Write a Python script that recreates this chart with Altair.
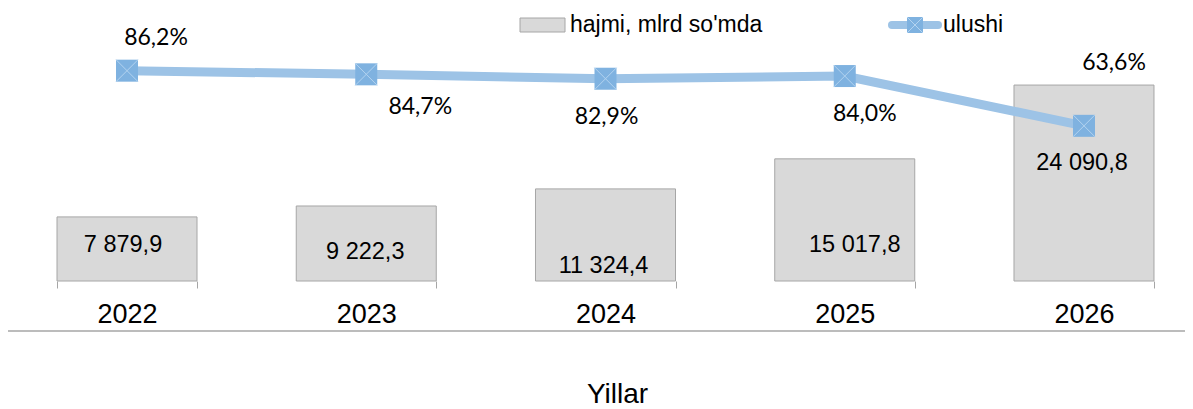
import altair as alt
import pandas as pd

# ---- data ----
years = ["2022", "2023", "2024", "2025", "2026"]
volume = [7879.9, 9222.3, 11324.4, 15017.8, 24090.8]          # hajmi, mlrd so'mda
share = [86.2, 84.7, 82.9, 84.0, 63.6]                        # ulushi, %
volume_labels = ["7 879,9", "9 222,3", "11 324,4", "15 017,8", "24 090,8"]
share_labels = ["86,2%", "84,7%", "82,9%", "84,0%", "63,6%"]
legend_labels = ["hajmi, mlrd so'mda", "ulushi"]
axis_title = "Yillar"

df = pd.DataFrame({
    "year": years,
    "volume": volume,
    "share": share,
    "vol_label": volume_labels,
    "share_label": share_labels,
})
one = pd.DataFrame({"k": [0]})

# ---- styling / label placement (not data) ----
PLOT_W, PLOT_H = 1177, 244
BAR_FILL, BAR_STROKE = "#d9d9d9", "#a6a6a6"
LINE_COLOR, MARK_COLOR, CROSS_COLOR = "#9DC3E6", "#7FB2E0", "#B3D3F0"
vol_offsets = {"2022": (-4, -4), "2023": (-1, 9), "2024": (-2, 31), "2025": (10, 25), "2026": (-2, -20)}
pct_offsets = {"2022": (29, -33), "2023": (54, 33), "2024": (1, 38), "2025": (20, 38), "2026": (30, -63)}

x_axis = alt.Axis(
    title=axis_title, titleFont="Liberation Sans", titleFontSize=28, titleFontWeight="normal",
    titleColor="black", titleBaseline="alphabetic", titleX=609, titleY=121,
    labelFont="Liberation Sans", labelFontSize=27, labelColor="black", labelAngle=0,
    labelPadding=13, tickSize=7, tickColor="#a6a6a6", tickWidth=1, tickBand="extent",
    domain=False, grid=False,
)
x_scale = alt.Scale(paddingInner=0.4148, paddingOuter=0.1672, align=0.6125)
X = alt.X("year:N", sort=years, scale=x_scale, axis=x_axis)
Xp = alt.X("year:N", sort=years)

y_vol = alt.Y("volume:Q", scale=alt.Scale(domain=[0, 30000], nice=False, zero=True), axis=None)
y_mid = alt.Y("mid:Q", scale=alt.Scale(domain=[0, 30000], nice=False, zero=True), axis=None)
y_pct = alt.Y("share:Q", scale=alt.Scale(domain=[0, 100], nice=False, zero=True), axis=None)

base = alt.Chart(df)

bars = base.mark_bar(color=BAR_FILL, stroke=BAR_STROKE, strokeWidth=1).encode(x=X, y=y_vol)

bar_texts = []
for yr in years:
    dx, dy = vol_offsets[yr]
    bar_texts.append(
        base.transform_filter(alt.datum.year == yr)
        .transform_calculate(mid="datum.volume / 2")
        .mark_text(font="Liberation Sans", fontSize=23.5, color="black", dx=dx, dy=dy, baseline="middle")
        .encode(x=Xp, y=y_mid, text="vol_label:N")
    )

line = base.mark_line(color=LINE_COLOR, strokeWidth=9).encode(x=Xp, y=y_pct)
squares = base.mark_square(size=484, color=MARK_COLOR, opacity=1).encode(x=Xp, y=y_pct)
crosses = base.mark_point(shape="M-1,-1L1,1M-1,1L1,-1", size=484, stroke=CROSS_COLOR,
                          strokeWidth=1, filled=False, opacity=1).encode(x=Xp, y=y_pct)

pct_texts = []
for yr in years:
    dx, dy = pct_offsets[yr]
    pct_texts.append(
        base.transform_filter(alt.datum.year == yr)
        .mark_text(font="Lato", fontSize=23, color="black", dx=dx, dy=dy, baseline="middle")
        .encode(x=Xp, y=y_pct, text="share_label:N")
    )

bottom_rule = alt.Chart(one).mark_rule(color="#a6a6a6", strokeWidth=1.5).encode(
    x=alt.value(-1), x2=alt.value(PLOT_W), y=alt.value(294))

leg_rect = alt.Chart(one).mark_rect(fill=BAR_FILL, stroke=BAR_STROKE, strokeWidth=1).encode(
    x=alt.value(512), x2=alt.value(557), y=alt.value(-19), y2=alt.value(-5))
leg_text1 = alt.Chart(one).mark_text(font="Liberation Sans", fontSize=23, color="black",
                                     align="left", baseline="middle").encode(
    x=alt.value(562), y=alt.value(-12), text=alt.value(legend_labels[0]))
leg_line = alt.Chart(one).mark_rule(color=LINE_COLOR, strokeWidth=8, strokeCap="round").encode(
    x=alt.value(884), x2=alt.value(930), y=alt.value(-12))
leg_sq = alt.Chart(one).mark_square(size=256, color=MARK_COLOR, opacity=1).encode(
    x=alt.value(907), y=alt.value(-12))
leg_x = alt.Chart(one).mark_point(shape="M-1,-1L1,1M-1,1L1,-1", size=256, stroke=CROSS_COLOR,
                                  strokeWidth=1, filled=False, opacity=1).encode(
    x=alt.value(907), y=alt.value(-12))
leg_text2 = alt.Chart(one).mark_text(font="Liberation Sans", fontSize=23, color="black",
                                     align="left", baseline="middle").encode(
    x=alt.value(935), y=alt.value(-12), text=alt.value(legend_labels[1]))

chart = alt.layer(
    bars, *bar_texts, line, squares, crosses, *pct_texts,
    bottom_rule, leg_rect, leg_text1, leg_line, leg_sq, leg_x, leg_text2,
).resolve_scale(y="independent").properties(
    width=PLOT_W, height=PLOT_H,
    padding={"left": 0, "right": 0, "top": 29, "bottom": 126},
    autosize=alt.AutoSizeParams(type="none"),
).configure_view(stroke=None)

chart.save("out.html", embed_options={"renderer": "svg", "actions": False})
